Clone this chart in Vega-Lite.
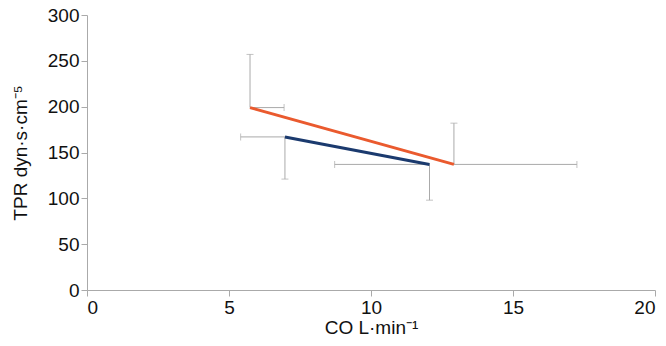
{
  "$schema": "https://vega.github.io/schema/vega-lite/v6.json",
  "width": 568,
  "height": 275,
  "autosize": {"type": "none"},
  "padding": {"left": 87, "top": 15, "right": 11, "bottom": 56},
  "background": "white",
  "config": {
    "view": {"stroke": null},
    "axis": {
      "grid": false,
      "domainColor": "#aaaaaa",
      "tickColor": "#aaaaaa",
      "tickSize": 6,
      "labelColor": "#111111",
      "titleColor": "#111111",
      "labelFont": "Liberation Sans",
      "titleFont": "Liberation Sans",
      "labelFontSize": 19,
      "titleFontSize": 19,
      "titleFontWeight": "normal",
      "labelPadding": 2
    }
  },
  "data": {
    "values": [
      {"series": "A", "co": 5.74, "tpr": 199, "co_err": 6.94, "tpr_err": 257},
      {"series": "A", "co": 12.92, "tpr": 137, "co_err": 17.25, "tpr_err": 182},
      {"series": "B", "co": 6.97, "tpr": 167, "co_err": 5.41, "tpr_err": 121},
      {"series": "B", "co": 12.06, "tpr": 137, "co_err": 8.72, "tpr_err": 98}
    ]
  },
  "layer": [
    {
      "mark": {"type": "rule", "color": "#aaaaaa", "strokeWidth": 1},
      "encoding": {
        "x": {"field": "co", "type": "quantitative", "scale": {"domain": [0, 20]},
          "axis": {"values": [0, 5, 10, 15, 20], "title": "CO L·min⁻¹", "titlePadding": 1}},
        "x2": {"field": "co_err"},
        "y": {"field": "tpr", "type": "quantitative", "scale": {"domain": [0, 300]},
          "axis": {"values": [0, 50, 100, 150, 200, 250, 300], "title": "TPR dyn·s·cm⁻⁵", "titlePadding": 17}}
      }
    },
    {
      "mark": {"type": "rule", "color": "#aaaaaa", "strokeWidth": 1},
      "encoding": {
        "x": {"field": "co", "type": "quantitative"},
        "y": {"field": "tpr", "type": "quantitative"},
        "y2": {"field": "tpr_err"}
      }
    },
    {
      "mark": {"type": "tick", "color": "#aaaaaa", "orient": "vertical", "size": 7, "thickness": 1},
      "encoding": {
        "x": {"field": "co_err", "type": "quantitative"},
        "y": {"field": "tpr", "type": "quantitative"}
      }
    },
    {
      "mark": {"type": "tick", "color": "#aaaaaa", "orient": "horizontal", "size": 7, "thickness": 1},
      "encoding": {
        "x": {"field": "co", "type": "quantitative"},
        "y": {"field": "tpr_err", "type": "quantitative"}
      }
    },
    {
      "mark": {"type": "line", "strokeWidth": 3},
      "encoding": {
        "x": {"field": "co", "type": "quantitative"},
        "y": {"field": "tpr", "type": "quantitative"},
        "color": {"field": "series", "type": "nominal", "legend": null,
          "scale": {"domain": ["A", "B"], "range": ["#ea5a2e", "#1b3a6e"]}}
      }
    }
  ]
}
